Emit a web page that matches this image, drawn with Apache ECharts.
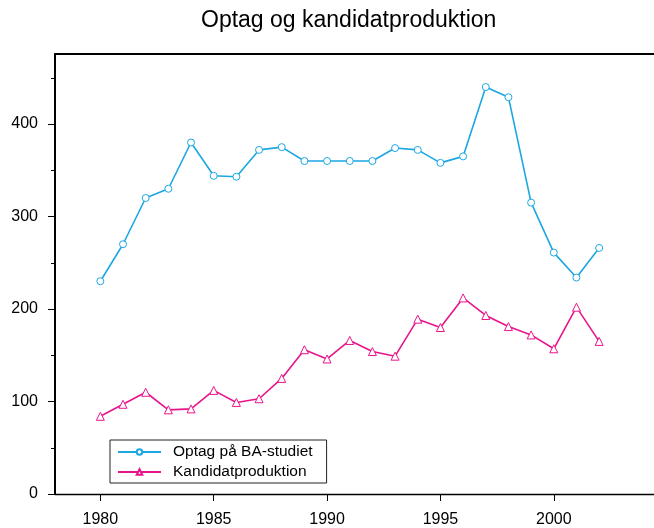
<!DOCTYPE html>
<html>
<head>
<meta charset="utf-8">
<script src="https://cdn.jsdelivr.net/npm/echarts@6/dist/echarts.min.js"></script>
<style>html,body{margin:0;padding:0;background:#fff}#c{width:654px;height:528px}</style>
</head>
<body>
<div id="c"></div>
<script>
const years = [1980,1981,1982,1983,1984,1985,1986,1987,1988,1989,1990,1991,1992,1993,1994,1995,1996,1997,1998,1999,2000,2001,2002];
const optag = [230,270,320,330,380,344,343,372,375,360,360,360,360,374,372,358,365,440,429,315,261,234,266];
const kandidat = [84,97,110,91,92,112,99,103,125,156,146,166,154,149,189,180,212,193,181,172,157,202,165];
const xTicks = [1980,1985,1990,1995,2000];
const yMajor = [0,100,200,300,400];
const yMinor = [50,150,250,350,450];
const seriesNames = ['Optag på BA-studiet','Kandidatproduktion'];

const blue = '#1ba7e2', pink = '#e8148c';
const font = '"Liberation Sans", Arial, Helvetica, sans-serif';
const chart = echarts.init(document.getElementById('c'));
chart.setOption({
  animation: false,
  title: {text: 'Optag og kandidatproduktion', left: 201, top: 9, padding: 0,
    textStyle: {fontFamily: font, fontSize: 23, fontWeight: 'normal', color: '#000'}},
  grid: {left: 55, top: 54, right: 0, bottom: 34},
  legend: {
    orient: 'vertical', left: 110, top: 440, padding: [4,14,3,7],
    borderColor: '#222', borderWidth: 1, itemWidth: 43, itemHeight: 7, itemGap: 4,
    textStyle: {fontFamily: font, fontSize: 15.5, color: '#000', lineHeight: 16, padding: [0,0,0,7]},
    data: seriesNames
  },
  xAxis: [{
    type: 'value', min: 1978, max: 2004.42, position: 'bottom',
    axisLine: {show: true, onZero: false, lineStyle: {color: '#000', width: 1.3}},
    axisTick: {show: true, customValues: xTicks, length: 7, lineStyle: {color: '#000', width: 1}},
    axisLabel: {customValues: xTicks, margin: 18, fontFamily: font, fontSize: 16, color: '#000',
      formatter: v => String(v)},
    splitLine: {show: false}
  },{
    type: 'value', min: 1978, max: 2004.42, position: 'top',
    axisLine: {show: true, onZero: false, lineStyle: {color: '#000', width: 2}},
    axisTick: {show: false}, axisLabel: {show: false}, splitLine: {show: false}
  }],
  yAxis: [{
    type: 'value', min: 0, max: 475.7, position: 'left',
    axisLine: {show: true, onZero: false, lineStyle: {color: '#000', width: 2}},
    axisTick: {show: true, customValues: yMajor, length: 7, lineStyle: {color: '#000', width: 1}},
    axisLabel: {customValues: yMajor, margin: 17, fontFamily: font, fontSize: 16, color: '#000',
      formatter: v => String(v)},
    splitLine: {show: false}
  },{
    type: 'value', min: 0, max: 475.7, position: 'left',
    axisLine: {show: false},
    axisTick: {show: true, customValues: yMinor, length: 4, lineStyle: {color: '#000', width: 1}},
    axisLabel: {show: false}, splitLine: {show: false}
  }],
  series: [{
    name: seriesNames[0], type: 'line',
    data: years.map((y,i)=>[y, optag[i]]),
    symbol: 'circle', symbolSize: 7,
    lineStyle: {color: blue, width: 1.6},
    itemStyle: {color: '#fff', borderColor: blue, borderWidth: 1}
  },{
    name: seriesNames[1], type: 'line',
    data: years.map((y,i)=>[y, kandidat[i]]),
    symbol: 'triangle', symbolSize: 8,
    lineStyle: {color: pink, width: 1.6},
    itemStyle: {color: '#fff', borderColor: pink, borderWidth: 1}
  }]
});
</script>
</body>
</html>
